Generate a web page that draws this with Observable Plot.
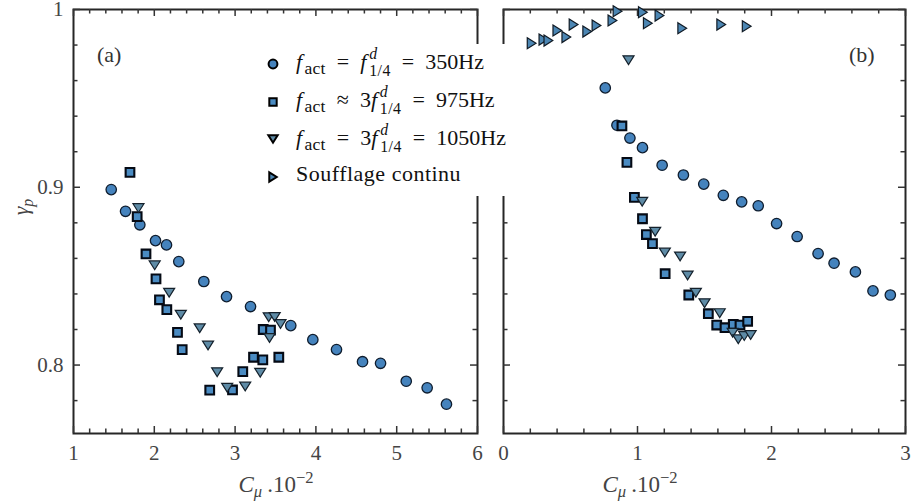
<!DOCTYPE html>
<html><head><meta charset="utf-8">
<script src="https://cdn.jsdelivr.net/npm/d3@7"></script>
<script src="https://cdn.jsdelivr.net/npm/@observablehq/plot@0.6"></script>
<style>
body{margin:0;background:#fff;}
#wrap{position:relative;width:911px;height:504px;overflow:hidden;font-family:"Liberation Serif",serif;}
#wrap svg.plot{position:absolute;top:0;}
.t{position:absolute;white-space:nowrap;line-height:1;}
.xl{font-size:23px;color:#444;transform:translateX(-50%);}
.sb{font-size:0.72em;position:relative;top:0.3em;}
.sp{font-size:0.72em;position:relative;top:-0.55em;}
.gap{margin-right:0.3em;}
.pl{font-size:22px;color:#333;}
#legend{position:absolute;left:250px;top:44px;width:272px;height:152px;background:#fff;}
.lg{font-size:22px;color:#111;}
.lg .sb{font-size:0.8em;margin-left:0.08em;letter-spacing:0.3px;}
.lg i{margin-right:0.04em;}
.rel{margin:0 0.5em;}
.ss{display:inline-block;vertical-align:-0.45em;font-size:0.72em;line-height:1.05;margin-left:0.12em;letter-spacing:0.5px;}
.mk{position:absolute;overflow:visible;}
</style></head>
<body><div id="wrap"></div>
<script>
// ---------- data (Cμ·10^-2 , γp) ----------
const a_350 = [[1.467,0.8987],[1.644,0.8865],[1.821,0.8789],[2.015,0.8700],[2.151,0.8676],[2.303,0.8582],[2.613,0.8470],[2.894,0.8385],[3.191,0.8329],[3.689,0.8222],[3.962,0.8143],[4.255,0.8087],[4.577,0.8019],[4.800,0.8010],[5.118,0.7909],[5.377,0.7872],[5.616,0.7780]];
const a_975 = [[1.699,0.9084],[1.788,0.8835],[1.897,0.8625],[2.021,0.8485],[2.064,0.8367],[2.155,0.8312],[2.287,0.8184],[2.345,0.8087],[2.686,0.7859],[2.968,0.7860],[3.095,0.7963],[3.228,0.8044],[3.343,0.8029],[3.541,0.8044],[3.348,0.8200],[3.438,0.8197]];
const a_1050 = [[1.804,0.8883],[2.005,0.8561],[2.184,0.8407],[2.328,0.8283],[2.562,0.8207],[2.665,0.8110],[2.778,0.7960],[2.902,0.7872],[3.125,0.7879],[3.311,0.7957],[3.416,0.8269],[3.490,0.8270],[3.562,0.8231],[3.426,0.8152]];
const b_350 = [[0.7595,0.9559],[0.8466,0.9349],[0.9434,0.9277],[1.0372,0.9223],[1.1839,0.9124],[1.3425,0.9069],[1.4944,0.9018],[1.6404,0.8955],[1.7774,0.8918],[1.9010,0.8896],[2.0380,0.8796],[2.1914,0.8723],[2.3477,0.8627],[2.4669,0.8573],[2.6262,0.8524],[2.7573,0.8417],[2.8868,0.8394]];
const b_975 = [[0.8838,0.9345],[0.9211,0.9140],[0.9769,0.8943],[1.0372,0.8823],[1.0663,0.8734],[1.1117,0.8683],[1.2063,0.8514],[1.3827,0.8394],[1.5287,0.8289],[1.5912,0.8225],[1.6530,0.8210],[1.7148,0.8229],[1.7647,0.8225],[1.8220,0.8246]];
const b_1050 = [[0.9330,0.9715],[1.0350,0.8919],[1.1318,0.8750],[1.2040,0.8633],[1.3179,0.8611],[1.3738,0.8504],[1.4356,0.8407],[1.5004,0.8348],[1.6135,0.8292],[1.7103,0.8182],[1.7520,0.8145],[1.7967,0.8163],[1.8444,0.8169]];
const b_cont = [[0.210,0.9810],[0.298,0.9831],[0.335,0.9825],[0.402,0.9882],[0.469,0.9845],[0.523,0.9915],[0.625,0.9876],[0.694,0.9910],[0.813,0.9938],[0.851,0.9990],[1.040,0.9985],[1.077,0.9923],[1.164,0.9966],[1.334,0.9895],[1.625,0.9915],[1.815,0.9906]];

const xTicksA = [1,2,3,4,5,6];
const xTicksB = [0,1,2,3];
const yTicks = [0.8,0.9,1];
const yDomain = [0.7615,1.0];

// ---------- styles ----------
const triDown = {draw(ctx,size){const r=Math.sqrt(size/Math.PI),w=r*1.1,h=r*1.75;ctx.moveTo(-w,-h/2);ctx.lineTo(w,-h/2);ctx.lineTo(0,h/2);ctx.closePath();}};
const triRight = {draw(ctx,size){const r=Math.sqrt(size/Math.PI),w=r*1.1,h=r*1.75;ctx.moveTo(-h/2,-w);ctx.lineTo(h/2,0);ctx.lineTo(-h/2,w);ctx.closePath();}};
const S = {
  c:{symbol:"circle",r:5.2,fill:"#4583bd",stroke:"#0f1d2e",strokeWidth:1.3},
  s:{symbol:"square",r:4.9,fill:"#4a8bc2",stroke:"#050a14",strokeWidth:2.1},
  d:{symbol:triDown,r:5,fill:"#5e8ba6",stroke:"#14202b",strokeWidth:1.2},
  t:{symbol:triRight,r:5,fill:"#4c86b3",stroke:"#101a24",strokeWidth:1.2}
};
const H = 504, MT = 9, MB = 71, FH = H-MT-MB;
const tickCol = "#333";

function panel({width, ml, mr, xDomain, xMajor, showY, series}){
  const FW = width-ml-mr;
  const xMinor = d3.range(xDomain[0], xDomain[1]+1e-9, 0.2).map(v=>+v.toFixed(2));
  const yMinor = d3.range(0.78, 1.0001, 0.02).map(v=>+v.toFixed(2));
  const isMaj = (arr)=> v => arr.some(m=>Math.abs(m-v)<1e-6);
  const xM = xMinor.filter(v=>!isMaj(xMajor)(v)), yM = yMinor.filter(v=>!isMaj(yTicks)(v));
  const tk = {stroke:tickCol, strokeWidth:1.5};
  const marks = [
    Plot.frame({stroke:"#262626", strokeWidth:2}),
    Plot.tickX(xMajor,{x:d=>d, insetTop:FH-7, ...tk}),
    Plot.tickX(xM,{x:d=>d, insetTop:FH-4.5, ...tk}),
    Plot.tickX(xMajor,{x:d=>d, insetBottom:FH-7, ...tk}),
    Plot.tickX(xM,{x:d=>d, insetBottom:FH-4.5, ...tk}),
    Plot.tickY(yTicks,{y:d=>d, insetRight:FW-7, ...tk}),
    Plot.tickY(yM,{y:d=>d, insetRight:FW-4.5, ...tk}),
    Plot.tickY(yTicks,{y:d=>d, insetLeft:FW-7, ...tk}),
    Plot.tickY(yM,{y:d=>d, insetLeft:FW-4.5, ...tk}),
    Plot.axisX(xMajor,{tickSize:0, tickPadding:12, tickFormat:d=>String(d), fontSize:21, fill:"#444"})
  ];
  if (showY) marks.push(Plot.axisY(yTicks,{tickSize:0, tickPadding:10, tickFormat:d=>String(d), fontSize:21, fill:"#444"}));
  for (const [data,st] of series) marks.push(Plot.dot(data,{x:d=>d[0], y:d=>d[1], ...st}));
  const svg = Plot.plot({
    width, height:H, marginLeft:ml, marginRight:mr, marginTop:MT, marginBottom:MB,
    x:{domain:xDomain, label:null, axis:null}, y:{domain:yDomain, label:null, axis:null},
    style:{fontFamily:"Liberation Serif", background:"transparent", overflow:"visible"},
    marks
  });
  svg.classList.add("plot");
  return svg;
}

const wrap = document.getElementById("wrap");
const left = panel({width:490, ml:73, mr:13, xDomain:[1,6], xMajor:xTicksA, showY:true,
  series:[[a_350,S.c],[a_975,S.s],[a_1050,S.d]]});
left.style.left = "0px";
const right = panel({width:421, ml:13, mr:6, xDomain:[0,3], xMajor:xTicksB, showY:false,
  series:[[b_cont,S.t],[b_350,S.c],[b_975,S.s],[b_1050,S.d]]});
right.style.left = "490px";
wrap.append(left, right);

// ---------- text overlays ----------
function add(cls, html, x, y, extra=""){
  const d = document.createElement("div");
  d.className = "t "+cls; d.innerHTML = html;
  d.style.left = x+"px"; d.style.top = y+"px";
  if (extra) d.style.cssText += extra;
  wrap.append(d); return d;
}
const xlab = '<i>C</i><span class="sb gap"><i>μ</i></span>.10<span class="sp">−2</span>';
add("xl", xlab, 276, 473);
add("xl", xlab, 640, 473);
add("xl", '<i>γ</i><span class="sb"><i>p</i></span>', 21, 207, "font-size:22px;transform:translate(-50%,-50%) rotate(-90deg);");
add("pl", "(a)", 97, 44);
add("pl", "(b)", 849, 44);

// legend
const lg = document.createElement("div"); lg.id = "legend"; wrap.append(lg);
const f14 = '<i>f</i><span class="ss"><i>d</i><br>1/4</span>';
const fact = '<i>f</i><span class="sb">act</span>';
const eq = '<span class="rel">=</span>', ap = '<span class="rel">≈</span>';
const rows = [
  [S.c, fact+eq+f14+eq+'350Hz', 64, 67.5, 2.8],
  [S.s, fact+ap+'3'+f14+eq+'975Hz', 101.5, 105.5, 2.8],
  [S.d, fact+eq+'3'+f14+eq+'1050Hz', 139, 143.5, 2.8],
  [S.t, 'Soufflage continu', 176.5, 181.5, 0]
];
for (const [st, html, cy, base, adj] of rows){
  const sym = (typeof st.symbol === "string") ? ({circle:d3.symbolCircle, square:d3.symbolSquare})[st.symbol] : st.symbol;
  const sz = Math.PI*(st.r*0.85)**2;
  const svg = d3.create("svg").attr("class","mk").attr("width",16).attr("height",16)
    .style("left",(273-8)+"px").style("top",(cy-8)+"px");
  svg.append("path").attr("transform","translate(8,8)").attr("d", d3.symbol(sym, sz)())
    .attr("fill", st.fill).attr("stroke","#000").attr("stroke-width", 2);
  wrap.append(svg.node());
  const d = add("lg", html, 296, base-0.8375*22-adj);
  if (!adj) d.style.letterSpacing = "0.5px";
}
</script></body></html>
